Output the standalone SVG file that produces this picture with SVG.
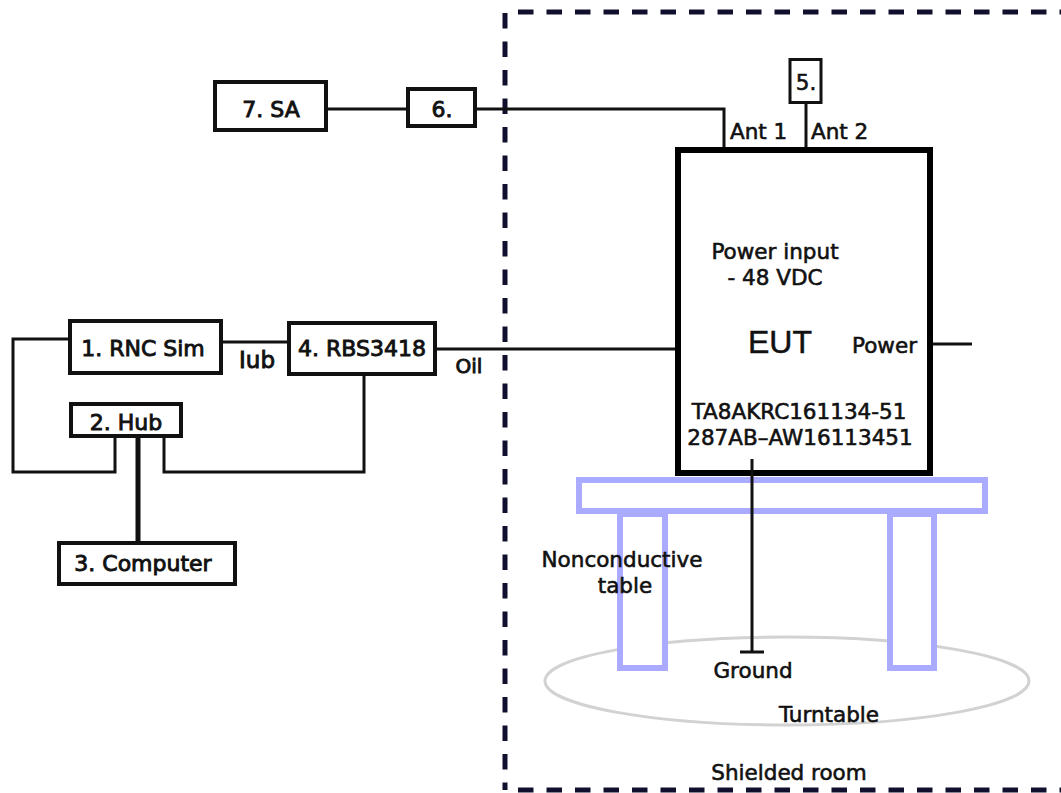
<svg xmlns="http://www.w3.org/2000/svg" width="1061" height="793" viewBox="0 0 1061 793">
<style>
  .box{fill:#fff;stroke:#111;stroke-width:4}
  .eut{fill:#fff;stroke:#000;stroke-width:6}
  .wire{fill:none;stroke:#111;stroke-width:3}
  .room{fill:none;stroke:#10102e;stroke-width:5;stroke-dasharray:15.5 13}
  .tbl{fill:#fff;stroke:#aaaaff;stroke-width:6}
  .t{font-family:"DejaVu Sans",Verdana,sans-serif;font-size:21.5px;fill:#111;stroke:#111;stroke-width:0.6}
  .b{font-family:"DejaVu Sans",Verdana,sans-serif;font-size:22px;fill:#111;stroke:#111;stroke-width:0.9}
  .m{text-anchor:middle}
</style>
<rect width="1061" height="793" fill="#fff"/>

<g id="shielded-room">
  <line class="room" x1="505" y1="13" x2="505" y2="790"/>
  <line class="room" x1="518" y1="12" x2="1061" y2="12"/>
  <line class="room" x1="518" y1="790" x2="1061" y2="790"/>
  <text class="t m" x="789" y="780">Shielded room</text>
</g>

<g id="turntable">
  <ellipse cx="787" cy="681" rx="242" ry="44" fill="none" stroke="#d2d2d2" stroke-width="3"/>
  <text class="t m" x="829" y="722">Turntable</text>
</g>

<g id="connectors">
  <polyline class="wire" points="328,109 406,109"/>
  <polyline class="wire" points="477,109 724,109 724,150"/>
  <polyline class="wire" points="806,104 806,150"/>
  <polyline class="wire" points="223,342 287,342"/>
  <polyline class="wire" points="437,349 675,349"/>
  <polyline class="wire" points="933,344 972,344"/>
  <polyline class="wire" points="68,339 13,339 13,472 115,472 115,438"/>
  <polyline class="wire" points="164,438 164,472 364,472 364,376"/>
  <line x1="138" y1="438" x2="138" y2="541" stroke="#111" stroke-width="5"/>
</g>

<g id="table">
  <rect class="tbl" x="620" y="514" width="45" height="154"/>
  <rect class="tbl" x="890" y="514" width="44" height="154"/>
  <rect class="tbl" x="579" y="480" width="406" height="31"/>
  <text class="t m" x="622" y="567">Nonconductive</text>
  <text class="t m" x="625" y="593">table</text>
</g>

<g id="node-7">
  <rect class="box" x="215" y="82" width="111" height="48"/>
  <text class="b m" x="271" y="117">7. SA</text>
</g>
<g id="node-6">
  <rect class="box" x="408" y="89" width="67" height="37" stroke-width="3.5"/>
  <text class="b m" x="442" y="117">6.</text>
</g>
<g id="node-5">
  <rect class="box" x="790" y="59.5" width="31" height="43" style="stroke-width:3"/>
  <text class="t m" x="806" y="90">5.</text>
</g>
<g id="node-1">
  <rect class="box" x="70" y="321" width="151" height="52"/>
  <text class="b m" x="143" y="356">1. RNC Sim</text>
</g>
<g id="node-2">
  <rect class="box" x="71" y="404" width="110" height="32"/>
  <text class="b m" x="126" y="430">2. Hub</text>
</g>
<g id="node-3">
  <rect class="box" x="59" y="543" width="176" height="41"/>
  <text class="b m" x="143" y="571">3. Computer</text>
</g>
<g id="node-4">
  <rect class="box" x="289" y="323" width="146" height="51"/>
  <text class="b m" x="362" y="356">4. RBS3418</text>
</g>

<g id="eut">
  <rect class="eut" x="678" y="150" width="252" height="323"/>
  <text class="t m" x="775" y="259">Power input</text>
  <text class="t m" x="775" y="285">- 48 VDC</text>
  <text x="780" y="353" text-anchor="middle" font-family="Liberation Sans,Arial,sans-serif" font-size="32" fill="#111" stroke="#111" stroke-width="0.5">EUT</text>
  <text class="t" x="917" y="353" text-anchor="end">Power</text>
  <text class="t m" x="799" y="419">TA8AKRC161134-51</text>
  <text class="t m" x="800" y="445">287AB–AW16113451</text>
</g>

<g id="labels">
  <text class="t" x="730" y="139">Ant 1</text>
  <text class="t" x="811" y="139">Ant 2</text>
  <text class="b m" x="257" y="368" style="font-size:23px">Iub</text>
  <text class="b m" x="469" y="373" style="font-size:20px">Oil</text>
</g>

<g id="ground">
  <line x1="752" y1="459" x2="752" y2="652" stroke="#111" stroke-width="3"/>
  <line x1="740" y1="652" x2="764" y2="652" stroke="#111" stroke-width="3"/>
  <text class="t m" x="753" y="678">Ground</text>
</g>
</svg>
